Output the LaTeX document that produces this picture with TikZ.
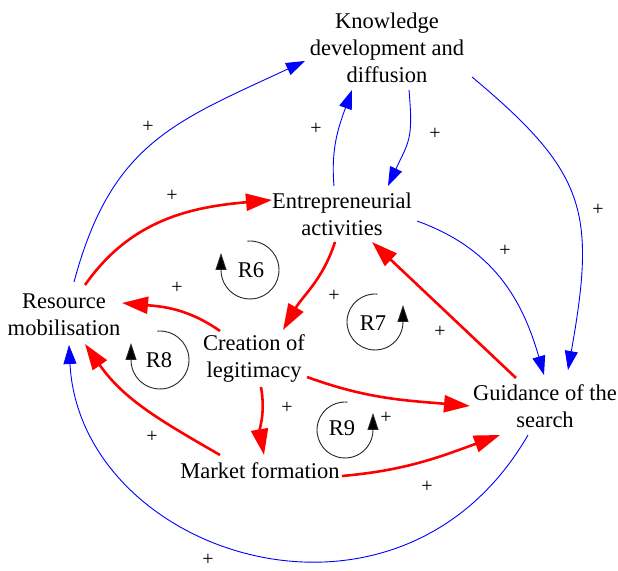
\documentclass[tikz,border=0pt]{standalone}
\usepackage{fontspec}
\setmainfont{Liberation Serif}
\newfontfamily\timesx{Liberation Serif}
\usetikzlibrary{arrows.meta}
\tikzset{
  lbl/.style={font=\timesx\fontsize{22.5}{27}\selectfont, align=center, inner sep=1pt},
  pl/.style={font=\timesx\fontsize{20}{24}\selectfont, inner sep=0pt},
  blu/.style={draw=blue, line width=0.9pt, -{Triangle[length=19pt,width=13pt]}},
  rd/.style={draw=red, line width=2.6pt, -{Triangle[length=26pt,width=17pt]}},
  loopc/.style={draw=black!85, line width=0.9pt, -{Triangle[length=17pt,width=11pt,fill=black]}},
}
\begin{document}
\begin{tikzpicture}[x=1pt,y=1pt]
\useasboundingbox (0,0) rectangle (618,570);
% nodes
\node[lbl] (K) at (387,522) {Knowledge\\development and\\diffusion};
\node[lbl] (E) at (342,356) {Entrepreneurial\\activities};
\node[lbl] (R) at (64,255) {Resource\\mobilisation};
\node[lbl] (C) at (254,211) {Creation of\\legitimacy};
\node[lbl] (G) at (545,164) {Guidance of the\\search};
\node[lbl] (M) at (260,99) {Market formation};
% blue links
\draw[blu] ([shift={(10,33)}]R.center) to[out=75,in=205,looseness=1.15] ([shift={(-82,-13)}]K.center);
\draw[blu] ([shift={(-8,28)}]E.center) to[out=95,in=-110] ([shift={(-35,-42)}]K.center);
\draw[blu] ([shift={(22,-42)}]K.center) to[out=-85,in=65,looseness=1.3] ([shift={(46,28)}]E.center);
\draw[blu] ([shift={(85,-29)}]K.center) .. controls +(115,-96) and +(28,158) .. ([shift={(23,36)}]G.center);
\draw[blu] ([shift={(75,-7)}]E.center) .. controls +(75,-27) and +(-22,77) .. ([shift={(-1,31)}]G.center);
\draw[blu] ([shift={(-17,-29)}]G.center) .. controls +(-130,-225) and +(11,-210) .. ([shift={(5,-30)}]R.center);
% red links
\draw[rd] ([shift={(21,30)}]R.center) to[out=55,in=185] ([shift={(-70,14)}]E.center);
\draw[rd] ([shift={(-7,-28)}]E.center) to[out=-108,in=60] ([shift={(29,29)}]C.center);
\draw[rd] ([shift={(-29,28)}]G.center) -- ([shift={(30,-28)}]E.center);
\draw[rd] ([shift={(-34,28)}]C.center) to[out=145,in=-5] ([shift={(58,12)}]R.center);
\draw[rd] ([shift={(53,-18)}]C.center) to[out=-20,in=175] ([shift={(-75,0)}]G.center);
\draw[rd] ([shift={(7,-28)}]C.center) to[out=-80,in=100] ([shift={(4,16)}]M.center);
\draw[rd] ([shift={(-40,16)}]M.center) to[out=150,in=-55] ([shift={(21,-29)}]R.center);
\draw[rd] ([shift={(82,-5)}]M.center) to[out=5,in=200] ([shift={(-45,-29)}]G.center);
% polarity signs
\node[pl] (p1) at (148,443) {+};
\node[pl] (p2) at (316,441) {+};
\node[pl] (p3) at (435,436) {+};
\node[pl] (p4) at (598,360) {+};
\node[pl] (p5) at (505,319) {+};
\node[pl] (p6) at (208,10) {+};
\node[pl] (p7) at (172,374) {+};
\node[pl] (p8) at (334,274) {+};
\node[pl] (p9) at (440,238) {+};
\node[pl] (p10) at (177,282) {+};
\node[pl] (p11) at (386,152) {+};
\node[pl] (p12) at (287,162) {+};
\node[pl] (p13) at (152,133) {+};
\node[pl] (p14) at (427,83) {+};
% loops
\coordinate (c6) at (250,300);
\coordinate (c7) at (375,248);
\coordinate (c8) at (160,210);
\coordinate (c9) at (345,140);
\draw[loopc] ([shift={(95:29)}]c6) arc[start angle=95,end angle=-180,radius=29] -- ++(0,17);
\draw[loopc] ([shift={(85:28)}]c7) arc[start angle=85,end angle=360,radius=28] -- ++(0,17);
\draw[loopc] ([shift={(95:29)}]c8) arc[start angle=95,end angle=-180,radius=29] -- ++(0,17);
\draw[loopc] ([shift={(85:28)}]c9) arc[start angle=85,end angle=360,radius=28] -- ++(0,17);
\node[lbl] (L6) at (251,300) {R6};
\node[lbl] (L7) at (373,247) {R7};
\node[lbl] (L8) at (159,210) {R8};
\node[lbl] (L9) at (342,142) {R9};
\end{tikzpicture}
\end{document}
